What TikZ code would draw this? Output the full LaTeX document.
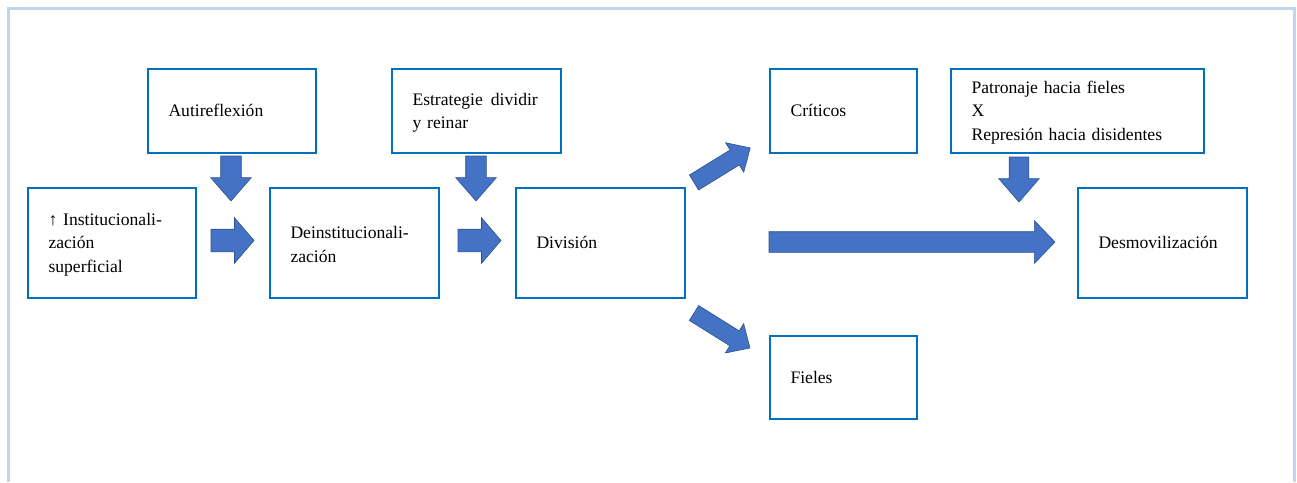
\documentclass[tikz,border=0pt]{standalone}
\usepackage{fontspec}
\setmainfont{Liberation Serif}
\usetikzlibrary{shapes.arrows}
\definecolor{boxblue}{HTML}{0070C0}
\definecolor{arrfill}{HTML}{4472C4}
\definecolor{arrdraw}{HTML}{2F528F}
\definecolor{framec}{HTML}{BDD7EE}
\tikzset{
  txt/.style={font=\fontsize{17.6}{23.5}\selectfont},
  box/.style={txt, draw=boxblue, line width=2pt, fill=white, rectangle,
    inner xsep=21pt, inner ysep=0pt, align=left},
  barrow/.style={single arrow, fill=arrfill, draw=arrdraw, line width=0.6pt,
    inner xsep=0pt, minimum width=0pt, outer sep=0pt, anchor=tail},
}
\begin{document}
\begin{tikzpicture}[x=1pt,y=-1pt]
\useasboundingbox (0,0) rectangle (1297,482);
% outer frame (bottom edge outside the picture)
\draw[framec, line width=3pt] (8.5,482) -- (8.5,8.5) -- (1294.5,8.5) -- (1294.5,482);

% boxes
\node[box, text width=126pt, minimum height=84pt] (auto) at (231.5,110.5) {Autireflexión};
\node[box, text width=127pt, minimum height=84pt] (estr) at (476,110.5) {\strut Estrategie\hspace{8pt}dividir\\y reinar};
\node[box, text width=105pt, minimum height=84pt] (crit) at (843,110.5) {Críticos};
\node[box, text width=211pt, minimum height=84pt] (patr) at (1077,110.5) {\strut Patronaje hacia fieles\\X\\Represión hacia disidentes};
\node[box, text width=126pt, minimum height=110pt] (inst) at (111.5,242.5) {\strut↑ Institucionali-\\zación\\superficial};
\node[box, text width=127pt, minimum height=110pt] (dein) at (354,242.5) {\strut Deinstitucionali-\\zación};
\node[box, text width=127pt, minimum height=110pt] (divi) at (600,242.5) {División};
\node[box, text width=127pt, minimum height=110pt] (desm) at (1162,242.5) {Desmovilización};
\node[box, text width=105pt, minimum height=83pt] (fiel) at (843,377) {Fieles};

% block arrows (placed by their tail)
\node[barrow, rotate=-90, minimum height=45pt, inner ysep=10pt,
  single arrow head extend=10pt, single arrow tip angle=82] (d1) at (231,156) {};
\node[barrow, rotate=-90, minimum height=45pt, inner ysep=10pt,
  single arrow head extend=10pt, single arrow tip angle=82] (d2) at (476,156) {};
\node[barrow, rotate=-90, minimum height=45pt, inner ysep=9.5pt,
  single arrow head extend=10.5pt, single arrow tip angle=82] (d3) at (1019,157) {};
\node[barrow, minimum height=43pt, inner ysep=11pt,
  single arrow head extend=11.5pt, single arrow tip angle=99] (r1) at (211,240.5) {};
\node[barrow, minimum height=43pt, inner ysep=11pt,
  single arrow head extend=11.5pt, single arrow tip angle=99] (r2) at (458,240.5) {};
\node[barrow, rotate=31.6, minimum height=66pt, inner ysep=8.5pt,
  single arrow head extend=8.5pt, single arrow tip angle=87] (du) at (694,182.5) {};
\node[barrow, rotate=-32, minimum height=66pt, inner ysep=8.5pt,
  single arrow head extend=8.5pt, single arrow tip angle=87] (dd) at (694,313) {};
\node[barrow, minimum height=286pt, inner ysep=10pt,
  single arrow head extend=11pt, single arrow tip angle=92] (lg) at (769,242) {};
\end{tikzpicture}
\end{document}
